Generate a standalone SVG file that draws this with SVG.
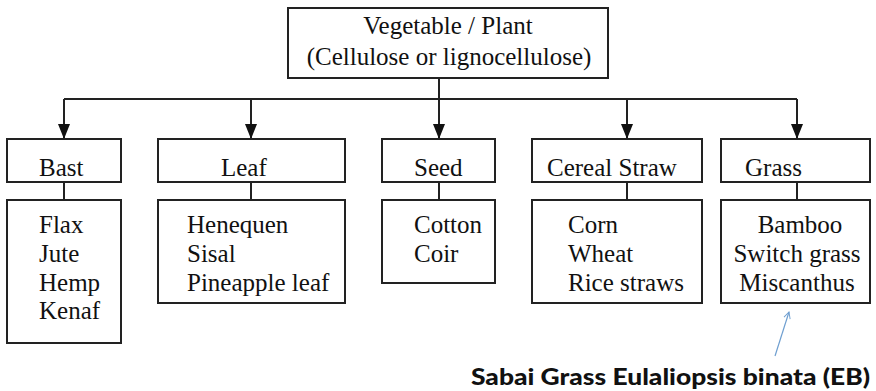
<svg xmlns="http://www.w3.org/2000/svg" width="876" height="391" viewBox="0 0 876 391">
  <style>
    .box { fill: #ffffff; stroke: #222222; stroke-width: 2; }
    .wire { stroke: #222222; stroke-width: 2; fill: none; }
  </style>
  <defs>
    <marker id="tri" viewBox="0 0 15 12" refX="15" refY="6" markerWidth="7.5" markerHeight="6" markerUnits="strokeWidth" orient="auto">
      <path d="M0,0 L15,6 L0,12 Z" fill="#111111"/>
    </marker>
    <marker id="open" viewBox="0 0 10 10" refX="9" refY="5" markerWidth="8" markerHeight="8" markerUnits="userSpaceOnUse" orient="auto">
      <path d="M1,1 L9,5 L1,9" fill="none" stroke="#6f9fd0" stroke-width="1.2"/>
    </marker>
  </defs>
  <rect width="876" height="391" fill="#ffffff"/>

  <g id="connectors">
    <line class="wire" x1="439" y1="78" x2="439" y2="99"/>
    <line class="wire" x1="64" y1="99" x2="797" y2="99"/>
    <line class="wire" x1="64" y1="99" x2="64" y2="139" marker-end="url(#tri)"/>
    <line class="wire" x1="251" y1="99" x2="251" y2="139" marker-end="url(#tri)"/>
    <line class="wire" x1="439" y1="99" x2="439" y2="139" marker-end="url(#tri)"/>
    <line class="wire" x1="627" y1="99" x2="627" y2="139" marker-end="url(#tri)"/>
    <line class="wire" x1="797" y1="99" x2="797" y2="139" marker-end="url(#tri)"/>
    <line class="wire" x1="64" y1="182" x2="64" y2="200"/>
    <line class="wire" x1="251" y1="182" x2="251" y2="200"/>
    <line class="wire" x1="439" y1="182" x2="439" y2="200"/>
    <line class="wire" x1="627" y1="182" x2="627" y2="200"/>
    <line class="wire" x1="797" y1="182" x2="797" y2="200"/>
    <line x1="775" y1="356" x2="789" y2="312" stroke="#6f9fd0" stroke-width="1.2" marker-end="url(#open)"/>
  </g>

  <g font-family="Liberation Serif, Times New Roman, serif" font-size="25" fill="#111111">
    <g id="root">
      <rect class="box" x="288" y="8" width="320" height="70"/>
      <text x="448" y="34" text-anchor="middle">Vegetable / Plant</text>
      <text x="449" y="65" text-anchor="middle">(Cellulose or lignocellulose)</text>
    </g>

    <g id="bast">
      <rect class="box" x="7" y="139" width="114" height="43"/>
      <text x="39" y="176">Bast</text>
      <rect class="box" x="7" y="200" width="114" height="143"/>
      <text x="39" y="233">Flax</text>
      <text x="39" y="262">Jute</text>
      <text x="39" y="291">Hemp</text>
      <text x="39" y="319">Kenaf</text>
    </g>

    <g id="leaf">
      <rect class="box" x="158" y="139" width="187" height="43"/>
      <text x="221" y="176">Leaf</text>
      <rect class="box" x="158" y="200" width="187" height="103"/>
      <text x="187" y="233">Henequen</text>
      <text x="187" y="262">Sisal</text>
      <text x="187" y="291">Pineapple leaf</text>
    </g>

    <g id="seed">
      <rect class="box" x="382" y="139" width="113" height="43"/>
      <text x="414" y="176">Seed</text>
      <rect class="box" x="382" y="200" width="113" height="83"/>
      <text x="414" y="233">Cotton</text>
      <text x="414" y="262">Coir</text>
    </g>

    <g id="cereal">
      <rect class="box" x="532" y="139" width="170" height="43"/>
      <text x="547" y="176">Cereal Straw</text>
      <rect class="box" x="532" y="200" width="170" height="103"/>
      <text x="568" y="233">Corn</text>
      <text x="568" y="262">Wheat</text>
      <text x="568" y="291">Rice straws</text>
    </g>

    <g id="grass">
      <rect class="box" x="721" y="139" width="149" height="43"/>
      <text x="745" y="176">Grass</text>
      <rect class="box" x="721" y="200" width="149" height="103"/>
      <text x="800" y="233" text-anchor="middle">Bamboo</text>
      <text x="797" y="262" text-anchor="middle">Switch grass</text>
      <text x="797" y="291" text-anchor="middle">Miscanthus</text>
    </g>
  </g>

  <g id="sabai-note">
    <text x="471" y="385" font-family="Lato, Liberation Sans, sans-serif" font-weight="900" font-size="22" fill="#111111" textLength="399" lengthAdjust="spacingAndGlyphs">Sabai Grass Eulaliopsis binata (EB)</text>
  </g>
</svg>
